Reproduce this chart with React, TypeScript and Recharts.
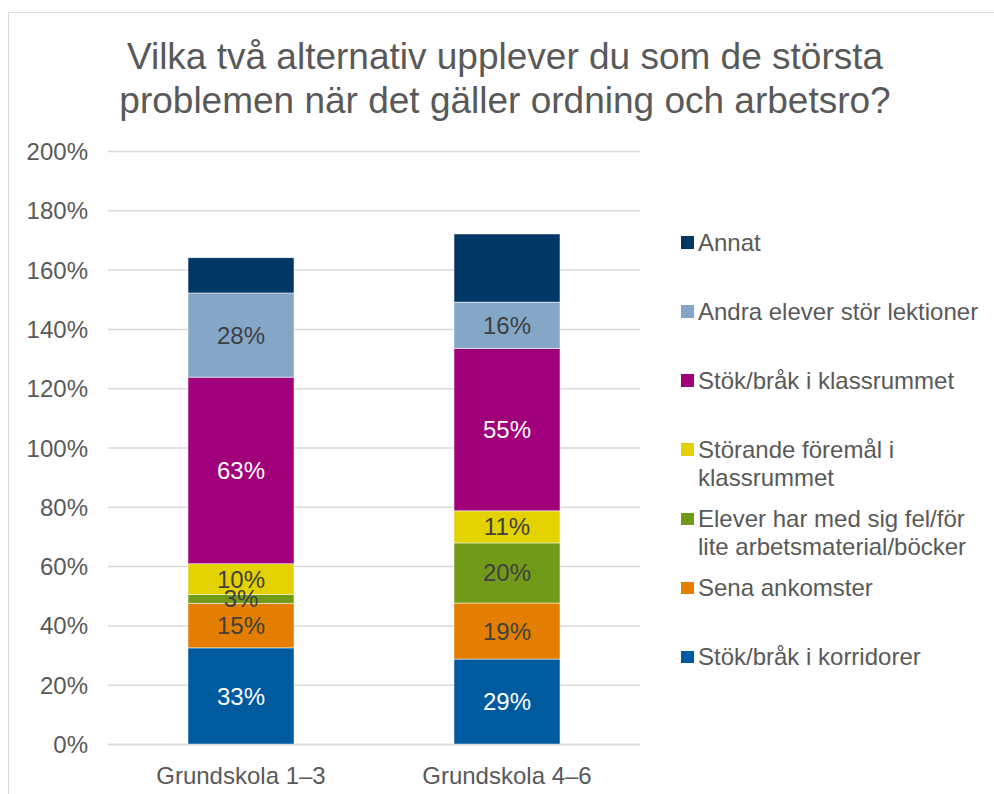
import { Bar, BarChart, CartesianGrid, LabelList, Legend, XAxis, YAxis } from "recharts";

const categories = ["Grundskola 1–3", "Grundskola 4–6"];

const korridorer = [32.6, 28.8];
const sena = [15.0, 18.9];
const elever = [3.0, 20.3];
const storande = [10.4, 10.8];
const klassrum = [62.9, 54.8];
const andra = [28.4, 15.6];
const annat = [11.9, 23.0];

const yTicks = [0, 20, 40, 60, 80, 100, 120, 140, 160, 180, 200];

const titleLines = [
  "Vilka två alternativ upplever du som de största",
  "problemen när det gäller ordning och arbetsro?",
];

const series = [
  { key: "korridorer", name: "Stök/bråk i korridorer", values: korridorer, color: "#005AA0", label: "#ffffff" },
  { key: "sena", name: "Sena ankomster", values: sena, color: "#E37E00", label: "#404040" },
  { key: "elever", name: "Elever har med sig fel/för lite arbetsmaterial/böcker", values: elever, color: "#729A19", label: "#404040" },
  { key: "storande", name: "Störande föremål i klassrummet", values: storande, color: "#E3D200", label: "#404040" },
  { key: "klassrum", name: "Stök/bråk i klassrummet", values: klassrum, color: "#A0007A", label: "#ffffff" },
  { key: "andra", name: "Andra elever stör lektioner", values: andra, color: "#84A7C8", label: "#404040" },
  { key: "annat", name: "Annat", values: annat, color: "#003764", label: null },
];

const data = categories.map((name, i) => {
  const row: Record<string, string | number> = { name };
  series.forEach((s) => {
    row[s.key] = s.values[i];
  });
  return row;
});

const FONT = '"Liberation Sans", Arial, sans-serif';
const GRAY = "#595959";

const seriesIndex = (name: string) => series.findIndex((s) => s.name === name);

const renderLegend = (props: any) => {
  // top of the stack first, like the original
  const items = [...(props.payload || [])].sort(
    (a: any, b: any) => seriesIndex(b.value) - seriesIndex(a.value)
  );
  return (
    <div style={{ position: "relative", fontFamily: FONT, fontSize: 24, color: GRAY }}>
      {items.map((entry: any, i: number) => (
        <div
          key={entry.value}
          style={{ position: "absolute", left: 0, top: i * 69.1, width: 300, display: "flex" }}
        >
          <span
            style={{
              display: "inline-block",
              width: 12.7,
              height: 12.7,
              marginTop: 7.4,
              marginRight: 4.3,
              background: entry.color,
              flex: "none",
            }}
          />
          <span style={{ lineHeight: "27.5px", width: 285 }}>{entry.value}</span>
        </div>
      ))}
    </div>
  );
};

const App = () => {
  return (
    <div
      style={{
        position: "fixed",
        left: 0,
        top: 0,
        width: 994,
        height: 794,
        overflow: "hidden",
        background: "#ffffff",
        fontFamily: FONT,
      }}
    >
      <div
        style={{
          position: "absolute",
          left: 8,
          top: 12,
          width: 1100,
          height: 900,
          border: "1.5px solid #D9D9D9",
        }}
      />
      <div
        style={{
          position: "absolute",
          left: 105,
          top: 35,
          width: 800,
          textAlign: "center",
          fontSize: 37,
          lineHeight: "44px",
          color: GRAY,
        }}
      >
        {titleLines[0]}
        <br />
        {titleLines[1]}
      </div>
      <div style={{ position: "absolute", left: 0, top: 0 }}>
        <BarChart
          width={994}
          height={794}
          data={data}
          margin={{ top: 151.5, right: 354, bottom: 0.5, left: 0 }}
        >
          <CartesianGrid vertical={false} stroke="#D9D9D9" strokeWidth={1.5} />
          <XAxis
            dataKey="name"
            height={49}
            tickLine={false}
            tickSize={0}
            tickMargin={22}
            axisLine={{ stroke: "#D9D9D9", strokeWidth: 1.5 }}
            tick={{ fill: GRAY, fontSize: 24, fontFamily: FONT }}
          />
          <YAxis
            width={108}
            domain={[0, 200]}
            ticks={yTicks}
            interval={0}
            axisLine={false}
            tickLine={false}
            tickSize={0}
            tickMargin={20}
            tickFormatter={(v: number) => `${v}%`}
            tick={{ fill: GRAY, fontSize: 24, fontFamily: FONT }}
          />
          <Legend
            layout="vertical"
            align="center"
            verticalAlign="middle"
            content={renderLegend}
            wrapperStyle={{ position: "absolute", left: 681, top: 228.75, width: 310, height: 460 }}
          />
          {series.map((s) => (
            <Bar
              key={s.key}
              dataKey={s.key}
              name={s.name}
              stackId="a"
              fill={s.color}
              stroke="#ffffff"
              strokeWidth={0.5}
              barSize={106}
              isAnimationActive={false}
            >
              {s.label && (
                <LabelList
                  dataKey={s.key}
                  position="center"
                  formatter={(v: any) => `${Math.round(Number(v))}%`}
                  style={{ fill: s.label, fontSize: 24, fontFamily: FONT }}
                />
              )}
            </Bar>
          ))}
        </BarChart>
      </div>
    </div>
  );
};

export default App;
